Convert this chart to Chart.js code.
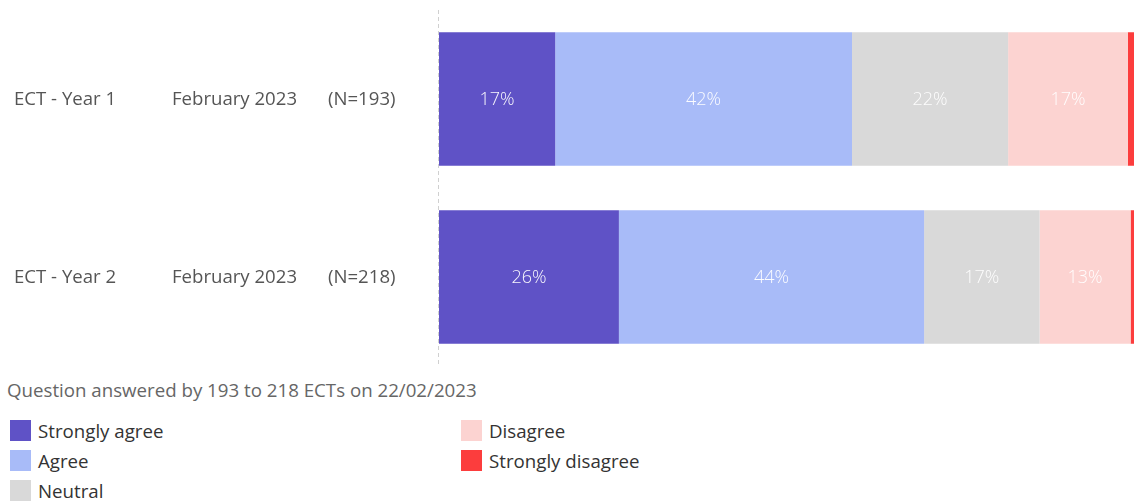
<!DOCTYPE html>
<html>
<head>
<meta charset="utf-8">
<script src="https://cdn.jsdelivr.net/npm/chart.js@4"></script>
<style>
  html, body { margin: 0; padding: 0; background: #fff; }
  body { width: 1134px; height: 503px; position: relative; overflow: hidden; font-family: "Open Sans", "Lato", sans-serif; }
  #wrap { position: absolute; left: 0; top: 0; width: 1139px; height: 370px; }
  #note { position: absolute; left: 7px; top: 377px; font-size: 18.7px; color: #666; white-space: nowrap; }
  #legend { position: absolute; left: 10px; top: 418px; width: 1100px; }
  .item { position: absolute; display: flex; align-items: center; font-size: 18.7px; color: #333; white-space: nowrap; }
  .sw { width: 21px; height: 21px; margin-right: 7px; }
</style>
</head>
<body>
<div id="wrap"><canvas id="c"></canvas></div>
<div id="note">Question answered by 193 to 218 ECTs on 22/02/2023</div>
<div id="legend"></div>
<script>
const groups = ["ECT - Year 1", "ECT - Year 2"];
const dates = ["February 2023", "February 2023"];
const sizes = ["(N=193)", "(N=218)"];
const seriesNames = ["Strongly agree", "Agree", "Neutral", "Disagree", "Strongly disagree"];
const seriesColors = ["#5f52c6", "#a8bbf8", "#d9d9d9", "#fcd3d1", "#fc3d3d"];
const stronglyAgree = [16.6, 25.7];
const agree = [42.4, 43.6];
const neutral = [22.3, 16.5];
const disagree = [17.1, 13.0];
const stronglyDisagree = [1.6, 1.2];
const seriesValues = [stronglyAgree, agree, neutral, disagree, stronglyDisagree];

const sidePlugin = {
  id: 'side',
  beforeDatasetsDraw(chart) {
    const ctx = chart.ctx, a = chart.chartArea;
    ctx.save();
    ctx.strokeStyle = '#d0d0d0';
    ctx.lineWidth = 1;
    ctx.setLineDash([4, 3]);
    ctx.beginPath();
    ctx.moveTo(a.left - 0.5, a.top);
    ctx.lineTo(a.left - 0.5, a.bottom);
    ctx.stroke();
    ctx.restore();
  },
  afterDatasetsDraw(chart) {
    const ctx = chart.ctx;
    const y = chart.scales.y;
    ctx.save();
    ctx.font = '18.6px "Open Sans", Lato, sans-serif';
    ctx.fillStyle = '#555';
    ctx.textBaseline = 'middle';
    ctx.textAlign = 'left';
    groups.forEach((g, i) => {
      const py = y.getPixelForValue(i) + 1;
      ctx.fillText(g, 14, py);
      ctx.fillText(dates[i], 172, py);
      ctx.fillText(sizes[i], 328, py);
    });
    ctx.font = '300 18px "Open Sans", Lato, sans-serif';
    ctx.fillStyle = 'rgba(255,255,255,0.95)';
    ctx.textAlign = 'center';
    chart.data.datasets.forEach((ds, di) => {
      const meta = chart.getDatasetMeta(di);
      meta.data.forEach((el, i) => {
        const v = ds.data[i];
        if (v < 5) return;
        const cx = (el.x + el.base) / 2;
        ctx.fillText(Math.round(v) + '%', cx, el.y + 1);
      });
    });
    ctx.restore();
  }
};

new Chart(document.getElementById('c'), {
  type: 'bar',
  data: {
    labels: groups,
    datasets: seriesNames.map((n, i) => ({
      label: n,
      data: seriesValues[i],
      backgroundColor: seriesColors[i],
      borderWidth: 0,
      categoryPercentage: 0.75,
      barPercentage: 1.0
    }))
  },
  options: {
    indexAxis: 'y',
    responsive: true,
    maintainAspectRatio: false,
    animation: false,
    layout: { padding: { left: 439, right: 0, top: 10, bottom: 4 } },
    scales: {
      x: { stacked: true, display: false, min: 0, max: 100 },
      y: { stacked: true, display: false }
    },
    plugins: { legend: { display: false }, tooltip: { enabled: false } }
  },
  plugins: [sidePlugin]
});

const leg = document.getElementById('legend');
const pos = [[0, 0], [0, 30], [0, 60], [451, 0], [451, 30]];
seriesNames.forEach((n, i) => {
  const d = document.createElement('div');
  d.className = 'item';
  d.style.left = pos[i][0] + 'px';
  d.style.top = pos[i][1] + 'px';
  d.innerHTML = '<span class="sw" style="background:' + seriesColors[i] + '"></span>' + n;
  leg.appendChild(d);
});
</script>
</body>
</html>
